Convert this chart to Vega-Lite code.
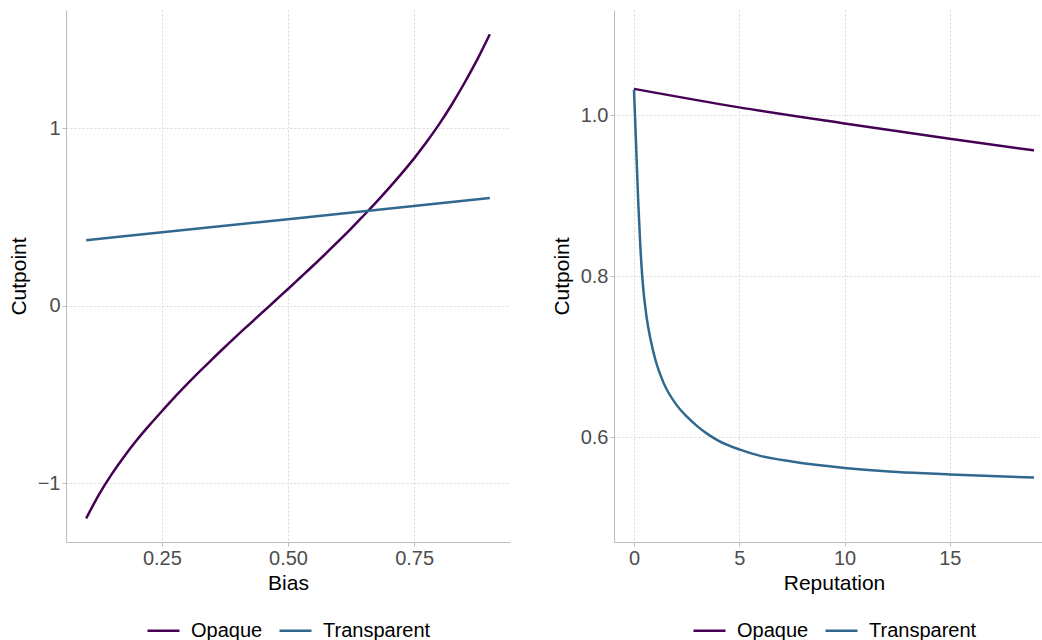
{
  "$schema": "https://vega.github.io/schema/vega-lite/v6.json",
  "padding": {"left": 8, "top": 10, "right": 0, "bottom": 0},
  "datasets": {
    "bias": [
      {"Bias": 0.100, "Cutpoint": -1.198, "Type": "Opaque"},
      {"Bias": 0.125, "Cutpoint": -1.065, "Type": "Opaque"},
      {"Bias": 0.150, "Cutpoint": -0.951, "Type": "Opaque"},
      {"Bias": 0.175, "Cutpoint": -0.850, "Type": "Opaque"},
      {"Bias": 0.200, "Cutpoint": -0.758, "Type": "Opaque"},
      {"Bias": 0.225, "Cutpoint": -0.674, "Type": "Opaque"},
      {"Bias": 0.250, "Cutpoint": -0.594, "Type": "Opaque"},
      {"Bias": 0.275, "Cutpoint": -0.516, "Type": "Opaque"},
      {"Bias": 0.300, "Cutpoint": -0.442, "Type": "Opaque"},
      {"Bias": 0.325, "Cutpoint": -0.370, "Type": "Opaque"},
      {"Bias": 0.350, "Cutpoint": -0.300, "Type": "Opaque"},
      {"Bias": 0.375, "Cutpoint": -0.232, "Type": "Opaque"},
      {"Bias": 0.400, "Cutpoint": -0.165, "Type": "Opaque"},
      {"Bias": 0.425, "Cutpoint": -0.100, "Type": "Opaque"},
      {"Bias": 0.450, "Cutpoint": -0.035, "Type": "Opaque"},
      {"Bias": 0.475, "Cutpoint": 0.030, "Type": "Opaque"},
      {"Bias": 0.500, "Cutpoint": 0.095, "Type": "Opaque"},
      {"Bias": 0.525, "Cutpoint": 0.161, "Type": "Opaque"},
      {"Bias": 0.550, "Cutpoint": 0.227, "Type": "Opaque"},
      {"Bias": 0.575, "Cutpoint": 0.295, "Type": "Opaque"},
      {"Bias": 0.600, "Cutpoint": 0.364, "Type": "Opaque"},
      {"Bias": 0.625, "Cutpoint": 0.435, "Type": "Opaque"},
      {"Bias": 0.650, "Cutpoint": 0.509, "Type": "Opaque"},
      {"Bias": 0.675, "Cutpoint": 0.584, "Type": "Opaque"},
      {"Bias": 0.700, "Cutpoint": 0.663, "Type": "Opaque"},
      {"Bias": 0.725, "Cutpoint": 0.745, "Type": "Opaque"},
      {"Bias": 0.750, "Cutpoint": 0.831, "Type": "Opaque"},
      {"Bias": 0.775, "Cutpoint": 0.924, "Type": "Opaque"},
      {"Bias": 0.800, "Cutpoint": 1.025, "Type": "Opaque"},
      {"Bias": 0.825, "Cutpoint": 1.136, "Type": "Opaque"},
      {"Bias": 0.850, "Cutpoint": 1.257, "Type": "Opaque"},
      {"Bias": 0.875, "Cutpoint": 1.387, "Type": "Opaque"},
      {"Bias": 0.900, "Cutpoint": 1.530, "Type": "Opaque"},
      {"Bias": 0.10, "Cutpoint": 0.370, "Type": "Transparent"},
      {"Bias": 0.50, "Cutpoint": 0.488, "Type": "Transparent"},
      {"Bias": 0.90, "Cutpoint": 0.607, "Type": "Transparent"}
    ],
    "rep": [
      {"Reputation": 0, "Cutpoint": 1.033, "Type": "Opaque"},
      {"Reputation": 5, "Cutpoint": 1.010, "Type": "Opaque"},
      {"Reputation": 10, "Cutpoint": 0.990, "Type": "Opaque"},
      {"Reputation": 15, "Cutpoint": 0.971, "Type": "Opaque"},
      {"Reputation": 19, "Cutpoint": 0.9565, "Type": "Opaque"},
      {"Reputation": 0, "Cutpoint": 1.032, "Type": "Transparent"},
      {"Reputation": 0.1, "Cutpoint": 0.963, "Type": "Transparent"},
      {"Reputation": 0.2, "Cutpoint": 0.893, "Type": "Transparent"},
      {"Reputation": 0.3, "Cutpoint": 0.838, "Type": "Transparent"},
      {"Reputation": 0.4, "Cutpoint": 0.797, "Type": "Transparent"},
      {"Reputation": 0.6, "Cutpoint": 0.749, "Type": "Transparent"},
      {"Reputation": 0.8, "Cutpoint": 0.72, "Type": "Transparent"},
      {"Reputation": 1.0, "Cutpoint": 0.698, "Type": "Transparent"},
      {"Reputation": 1.4, "Cutpoint": 0.668, "Type": "Transparent"},
      {"Reputation": 2.0, "Cutpoint": 0.641, "Type": "Transparent"},
      {"Reputation": 2.5, "Cutpoint": 0.626, "Type": "Transparent"},
      {"Reputation": 3.0, "Cutpoint": 0.614, "Type": "Transparent"},
      {"Reputation": 3.5, "Cutpoint": 0.604, "Type": "Transparent"},
      {"Reputation": 4.0, "Cutpoint": 0.596, "Type": "Transparent"},
      {"Reputation": 5.0, "Cutpoint": 0.585, "Type": "Transparent"},
      {"Reputation": 6.0, "Cutpoint": 0.577, "Type": "Transparent"},
      {"Reputation": 7.5, "Cutpoint": 0.570, "Type": "Transparent"},
      {"Reputation": 10, "Cutpoint": 0.562, "Type": "Transparent"},
      {"Reputation": 12.5, "Cutpoint": 0.557, "Type": "Transparent"},
      {"Reputation": 15, "Cutpoint": 0.554, "Type": "Transparent"},
      {"Reputation": 19, "Cutpoint": 0.550, "Type": "Transparent"}
    ]
  },
  "config": {
    "font": "Liberation Sans",
    "view": {"stroke": null},
    "concat": {"spacing": 41},
    "axis": {
      "domainColor": "#bdbdbd",
      "domainWidth": 1,
      "tickColor": "#bdbdbd",
      "tickSize": 4,
      "labelFontSize": 20,
      "labelColor": "#4d4d4d",
      "labelPadding": 2,
      "titleFontSize": 21,
      "titleFontWeight": "normal",
      "titleColor": "#000000",
      "gridColor": "#d9d9d9",
      "gridDash": [2, 2],
      "gridWidth": 1
    },
    "axisX": {"titlePadding": 4},
    "axisY": {"titlePadding": 8},
    "legend": {
      "orient": "bottom",
      "direction": "horizontal",
      "symbolType": "stroke",
      "symbolSize": 1024,
      "symbolStrokeWidth": 2.5,
      "labelFontSize": 20,
      "labelColor": "#000000",
      "labelOffset": 10,
      "columnPadding": 11,
      "offset": 20,
      "layout": {"bottom": {"anchor": "middle"}}
    }
  },
  "hconcat": [
    {
      "width": 444,
      "height": 532,
      "data": {"name": "bias"},
      "mark": {"type": "line", "strokeWidth": 2.5, "interpolate": "monotone"},
      "encoding": {
        "x": {"field": "Bias", "type": "quantitative", "scale": {"domain": [0.06, 0.94], "nice": false, "zero": false}, "axis": {"values": [0.25, 0.5, 0.75], "format": ".2f", "title": "Bias"}},
        "y": {"field": "Cutpoint", "type": "quantitative", "scale": {"domain": [-1.331, 1.667], "nice": false, "zero": false}, "axis": {"values": [-1, 0, 1], "format": "d", "title": "Cutpoint"}},
        "color": {"field": "Type", "type": "nominal", "scale": {"domain": ["Opaque", "Transparent"], "range": ["#440154", "#31688E"]}, "legend": {"title": null}}
      }
    },
    {
      "width": 440,
      "height": 532,
      "data": {"name": "rep"},
      "mark": {"type": "line", "strokeWidth": 2.5, "interpolate": "monotone"},
      "encoding": {
        "x": {"field": "Reputation", "type": "quantitative", "scale": {"domain": [-0.95, 19.95], "nice": false, "zero": false}, "axis": {"values": [0, 5, 10, 15], "format": "d", "title": "Reputation"}},
        "y": {"field": "Cutpoint", "type": "quantitative", "scale": {"domain": [0.470, 1.131], "nice": false, "zero": false}, "axis": {"values": [0.6, 0.8, 1.0], "format": ".1f", "title": "Cutpoint"}},
        "color": {"field": "Type", "type": "nominal", "scale": {"domain": ["Opaque", "Transparent"], "range": ["#440154", "#31688E"]}, "legend": {"title": null}}
      }
    }
  ],
  "resolve": {"scale": {"color": "independent"}, "legend": {"color": "independent"}}
}
